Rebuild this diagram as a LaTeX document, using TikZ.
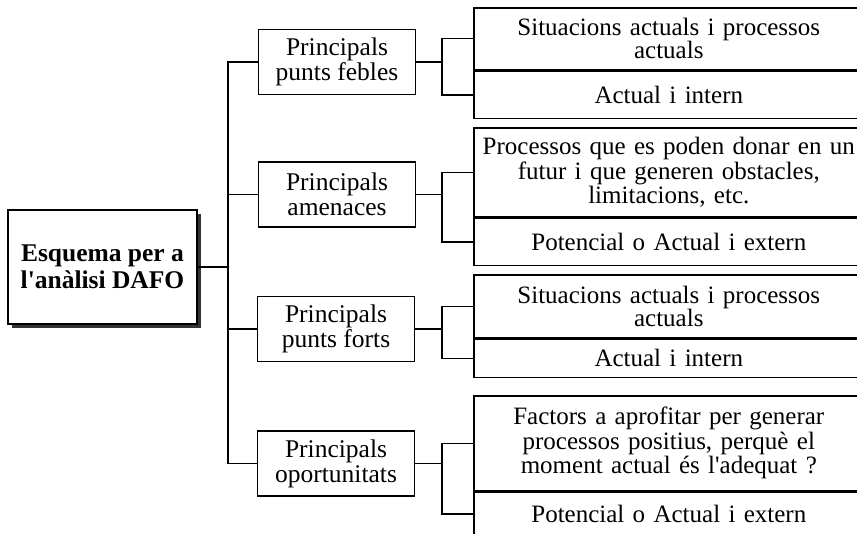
\documentclass[tikz,border=0pt]{standalone}
\usepackage{fontspec}
\setmainfont{Liberation Serif}
\usetikzlibrary{shadows}

\begin{document}
\begin{tikzpicture}[
  x=1pt, y=-1pt,
  every node/.style={font=\fontsize{25.5}{23}\selectfont, inner sep=2pt, align=center},
  main box/.style={draw, fill=white, line width=1.6pt, minimum width=189pt, minimum height=114pt,
    font=\fontsize{25.5}{27}\selectfont\bfseries,
    drop shadow={shadow xshift=4pt, shadow yshift=-4pt, fill=black!80, opacity=1}},
  mid box/.style={draw, line width=1.5pt, minimum width=157pt, minimum height=65pt,
    font=\fontsize{25.5}{25}\selectfont},
  cell/.style={draw, line width=1.6pt, minimum width=390pt, text width=380pt, inner xsep=5pt,
    font=\fontsize{25}{23}\selectfont},
  tall cell/.style={cell, font=\fontsize{25}{24.5}\selectfont},
  link/.style={line width=1.3pt}
]
  \useasboundingbox (0,0) rectangle (857,534);
  \clip (0,0) rectangle (857,534);

  \node[main box] (main) at (102.5,267) {Esquema per a\\l\textquotesingle anàlisi DAFO};

  \node[mid box] (m1) at (337,62)    {Principals\\punts febles};
  \node[mid box] (m2) at (337,194.5) {Principals\\amenaces};
  \node[mid box] (m3) at (336,329)   {Principals\\punts forts};
  \node[mid box] (m4) at (336,463.5) {Principals\\oportunitats};

  % right column, cut off by the page edge
  \node[cell, anchor=north west, minimum height=62pt] (u1) at (473,7) {Situacions actuals i processos\\actuals};
  \node[cell, anchor=north, minimum height=47pt] (l1) at (u1.south) {Actual i intern};
  \node[tall cell, anchor=north west, minimum height=89pt] (u2) at (473,127) {Processos que es poden donar en un\\futur i que generen obstacles,\\limitacions, etc.};
  \node[cell, anchor=north, minimum height=47pt] (l2) at (u2.south) {Potencial o Actual i extern};
  \node[cell, anchor=north west, minimum height=63pt] (u3) at (473,274) {Situacions actuals i processos\\actuals};
  \node[cell, anchor=north, minimum height=38pt] (l3) at (u3.south) {Actual i intern};
  \node[tall cell, anchor=north west, minimum height=95pt] (u4) at (473,395) {Factors a aprofitar per generar\\processos positius, perquè el\\moment actual és l\textquotesingle adequat ?};
  \node[cell, anchor=north, minimum height=43pt] (l4) at (u4.south) {Potencial o Actual i extern};

  \coordinate (spine) at (228,0);
  \coordinate (brk) at (442,0);

  \draw[link] (main.east) -- (main.east -| spine);
  \draw[link] (m1.west) -| (spine |- m4.west) -- (m4.west);
  \draw[link] (m2.west) -- (m2.west -| spine);
  \draw[link] (m3.west) -- (m3.west -| spine);
  \foreach \i in {1,...,4} {
    \draw[link] (m\i.east) -- (m\i.east -| brk);
    \draw[link] (u\i.west) -| (brk |- l\i.west) -- (l\i.west);
  }
\end{tikzpicture}
\end{document}
